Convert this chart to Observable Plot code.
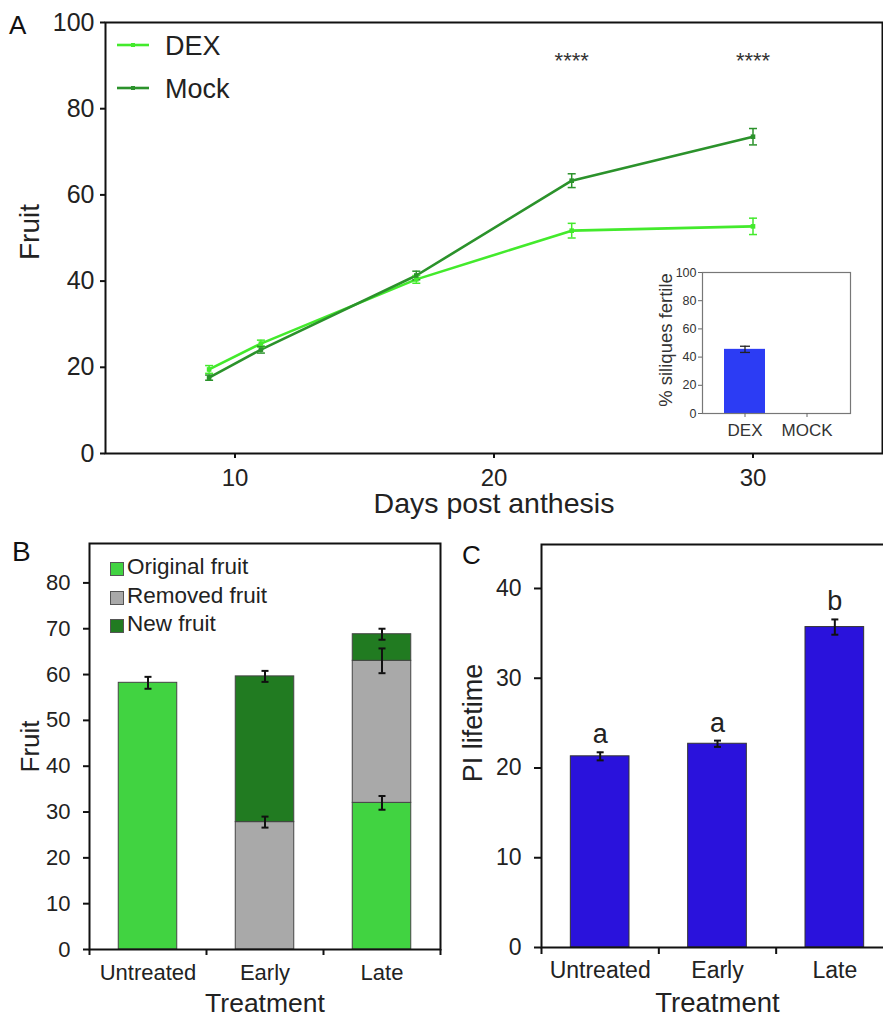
<!DOCTYPE html>
<html><head><meta charset="utf-8">
<script src="https://cdn.jsdelivr.net/npm/d3@7"></script>
<script src="https://cdn.jsdelivr.net/npm/@observablehq/plot@0.6"></script>
<style>
html,body{margin:0;padding:0;background:#fff;overflow:hidden}
#fig{position:relative;width:883px;height:1021px;overflow:hidden;font-family:"Liberation Sans",Arial,sans-serif;color:#222}
#fig > *{position:absolute}
.letter{line-height:1;color:#111}
.leg{line-height:1;white-space:nowrap}
</style></head><body><div id="fig"></div>
<script>
// ---------- Panel A data ----------
const days = [9, 11, 17, 23, 30];
const dexFruit = [19.5, 25.5, 40.4, 51.7, 52.7];
const dexErr = [0.9, 0.8, 0.9, 1.7, 1.9];
const mockFruit = [17.6, 24.1, 41.3, 63.3, 73.5];
const mockErr = [0.6, 0.8, 1.0, 1.6, 1.9];
const seriesA = ["DEX", "Mock"];
const yTicksA = [0, 20, 40, 60, 80, 100];
const xTicksA = [10, 20, 30];
const signifDays = [23, 30];
const signifLabels = ["****", "****"];
// ---------- Inset data ----------
const insetGroups = ["DEX", "MOCK"];
const insetFertile = [45.5, 0];
const insetErr = [2.2, 0];
const yTicksInset = [0, 20, 40, 60, 80, 100];
// ---------- Panel B data ----------
const treatments = ["Untreated", "Early", "Late"];
const seriesB = ["Original fruit", "Removed fruit", "New fruit"];
const originalFruit = [58.2, 0, 32.0];
const removedFruit = [0, 27.8, 31.0];
const newFruit = [0, 31.8, 5.8];
const bErrTreatment = ["Untreated", "Early", "Early", "Late", "Late", "Late"];
const bErrLevel = [58.2, 27.8, 59.6, 32.0, 63.0, 68.8];
const bErrSE = [1.3, 1.2, 1.2, 1.5, 2.7, 1.2];
const yTicksB = [0, 10, 20, 30, 40, 50, 60, 70, 80];
// ---------- Panel C data ----------
const piLifetime = [21.3, 22.7, 35.7];
const piErr = [0.45, 0.35, 0.85];
const piLetters = ["a", "a", "b"];
const yTicksC = [0, 10, 20, 30, 40];

// ---------- styles ----------
const FONT = '"Liberation Sans", Arial, sans-serif';
const DEX_C = "#43ea2c", MOCK_C = "#2b922b";
const INSET_C = "#2c3cf4";
const B_COLORS = ["#41d341", "#a9a9a9", "#217b21"];
const C_BAR = "#2a12dc";
const fig = document.getElementById("fig");
const cap = w => ({draw(ctx) { ctx.moveTo(-w / 2, 0); ctx.lineTo(w / 2, 0); }});
function place(el, left, top) { el.style.left = left + "px"; el.style.top = top + "px"; fig.appendChild(el); return el; }
function label(text, left, top, size, cls) {
  const d = document.createElement("div"); d.className = cls; d.textContent = text; d.style.fontSize = size + "px";
  return place(d, left, top);
}

// ---------- Panel A ----------
const lineRows = [];
days.forEach((d, i) => {
  lineRows.push({series: "DEX", day: d, fruit: dexFruit[i], err: dexErr[i]});
  lineRows.push({series: "Mock", day: d, fruit: mockFruit[i], err: mockErr[i]});
});
const plotA = Plot.plot({
  width: 883, height: 530, marginLeft: 105, marginRight: 1, marginTop: 22, marginBottom: 77,
  style: {fontFamily: FONT, fontSize: "25px", color: "#222", background: "transparent", overflow: "visible"},
  x: {domain: [5, 35]}, y: {domain: [0, 100]},
  color: {domain: seriesA, range: [DEX_C, MOCK_C]},
  marks: [
    Plot.frame({stroke: "#111", strokeWidth: 2}),
    Plot.axisY({ticks: yTicksA, tickSize: 5, tickPadding: 6, label: null, fontSize: 25, strokeWidth: 2, stroke: "#111"}),
    Plot.axisX({ticks: xTicksA, tickSize: 5, tickPadding: 10, label: null, fontSize: 24, strokeWidth: 2, stroke: "#111"}),
    Plot.line(lineRows, {x: "day", y: "fruit", z: "series", stroke: "series", strokeWidth: 2.6}),
    Plot.ruleX(lineRows, {x: "day", y1: d => d.fruit - d.err, y2: d => d.fruit + d.err, stroke: "series", strokeWidth: 1.5}),
    Plot.dot(lineRows, {x: "day", y: d => d.fruit - d.err, symbol: cap(8), stroke: "series", strokeWidth: 1.5, fill: "none"}),
    Plot.dot(lineRows, {x: "day", y: d => d.fruit + d.err, symbol: cap(8), stroke: "series", strokeWidth: 1.5, fill: "none"}),
    Plot.dot(lineRows, {x: "day", y: "fruit", fill: "series", r: 2.6, symbol: "square"}),
    Plot.text(signifDays, {x: d => d, text: (d, i) => signifLabels[i], frameAnchor: "top", dy: 30, fontSize: 22, fill: "#333"}),
    Plot.text(["Fruit"], {frameAnchor: "left", textAnchor: "middle", dx: -75, dy: -6, rotate: -90, fontSize: 28, fill: "#222"}),
    Plot.text(["Days post anthesis"], {frameAnchor: "bottom", textAnchor: "middle", dy: 59, fontSize: 28.5, fill: "#222"})
  ]
});
place(plotA, 0, 0);

// Legend A
seriesA.forEach((s, i) => {
  const color = [DEX_C, MOCK_C][i];
  const sw = document.createElementNS("http://www.w3.org/2000/svg", "svg");
  sw.setAttribute("width", 32); sw.setAttribute("height", 8);
  sw.innerHTML = `<line x1="0" y1="4" x2="32" y2="4" stroke="${color}" stroke-width="2.6"/><rect x="14" y="2" width="4" height="4" fill="${color}"/>`;
  place(sw, 117, 41 + i * 43);
  label(s, 165, 33 + i * 43, 27, "leg");
});
label("A", 9, 12, 26, "letter");

// ---------- Inset ----------
const insetRows = insetGroups.map((g, i) => ({group: g, value: insetFertile[i], err: insetErr[i]}));
const insetErrRows = insetRows.filter(d => d.err > 0);
const plotInset = Plot.plot({
  width: 215, height: 190, marginLeft: 62, marginRight: 5, marginTop: 10, marginBottom: 39,
  style: {fontFamily: FONT, fontSize: "12.5px", color: "#333", background: "#fff"},
  x: {domain: insetGroups, paddingInner: 0.333, paddingOuter: 0.35},
  y: {domain: [0, 100]},
  marks: [
    Plot.barY(insetRows, {x: "group", y: "value", fill: INSET_C}),
    Plot.frame({stroke: "#777", strokeWidth: 1.2}),
    Plot.axisY({ticks: yTicksInset, tickSize: 4, tickPadding: 2, label: null, fontSize: 12.5, stroke: "#666"}),
    Plot.axisX({tickSize: 4, tickPadding: 6, label: null, fontSize: 17, stroke: "#666"}),
    Plot.ruleX(insetErrRows, {x: "group", y1: d => d.value - d.err, y2: d => d.value + d.err, stroke: "#222", strokeWidth: 1.3}),
    Plot.dot(insetErrRows, {x: "group", y: d => d.value - d.err, symbol: cap(10), stroke: "#222", strokeWidth: 1.3, fill: "none"}),
    Plot.dot(insetErrRows, {x: "group", y: d => d.value + d.err, symbol: cap(10), stroke: "#222", strokeWidth: 1.3, fill: "none"}),
    Plot.text(["% siliques fertile"], {frameAnchor: "left", textAnchor: "middle", dx: -36, dy: -3, rotate: -90, fontSize: 18.5, fill: "#333"})
  ]
});
place(plotInset, 640, 262);

// ---------- Panel B ----------
const stackRows = [];
treatments.forEach((t, i) => {
  let base = 0;
  [originalFruit[i], removedFruit[i], newFruit[i]].forEach((v, k) => {
    if (v > 0) stackRows.push({idx: i, series: seriesB[k], y1: base, y2: base + v});
    base += v;
  });
});
const bErrRows = bErrTreatment.map((t, i) => ({idx: treatments.indexOf(t), level: bErrLevel[i], se: bErrSE[i]}));
const boundaries = treatments.map((_, i) => i - 0.5).concat([treatments.length - 0.5]);
const centers = treatments.map((_, i) => i);
const plotB = Plot.plot({
  width: 450, height: 501, marginLeft: 89, marginRight: 10, marginTop: 23, marginBottom: 72,
  style: {fontFamily: FONT, fontSize: "22px", color: "#222", background: "transparent", overflow: "visible"},
  x: {domain: [-0.5, treatments.length - 0.5]}, y: {domain: [0, 88.6]},
  color: {domain: seriesB, range: B_COLORS},
  marks: [
    Plot.rect(stackRows, {x1: d => d.idx - 0.25, x2: d => d.idx + 0.25, y1: "y1", y2: "y2", fill: "series", stroke: "#444", strokeWidth: 1}),
    Plot.frame({stroke: "#111", strokeWidth: 2}),
    Plot.axisY({ticks: yTicksB, tickSize: 6, tickPadding: 13, label: null, fontSize: 22, strokeWidth: 2, stroke: "#111"}),
    Plot.axisX({ticks: boundaries, tickFormat: () => "", tickSize: 6, label: null, strokeWidth: 2, stroke: "#111"}),
    Plot.axisX({ticks: centers, tickFormat: i => treatments[i], tickSize: 0, tickPadding: 15, label: null, fontSize: 22}),
    Plot.ruleX(bErrRows, {x: "idx", y1: d => d.level - d.se, y2: d => d.level + d.se, stroke: "#111", strokeWidth: 2}),
    Plot.dot(bErrRows, {x: "idx", y: d => d.level - d.se, symbol: cap(7), stroke: "#111", strokeWidth: 2, fill: "none"}),
    Plot.dot(bErrRows, {x: "idx", y: d => d.level + d.se, symbol: cap(7), stroke: "#111", strokeWidth: 2, fill: "none"}),
    Plot.text(["Fruit"], {frameAnchor: "left", textAnchor: "middle", dx: -59, rotate: -90, fontSize: 26, fill: "#222"}),
    Plot.text(["Treatment"], {frameAnchor: "bottom", textAnchor: "middle", dy: 62, fontSize: 26.5, fill: "#222"})
  ]
});
place(plotB, 0, 520);

// Legend B
seriesB.forEach((s, i) => {
  const sq = document.createElement("div");
  sq.style.cssText = `width:12px;height:12px;background:${B_COLORS[i]};border:1px solid #555;`;
  place(sq, 110, 562 + i * 28.5);
  label(s, 127, 556 + i * 28.5, 22.5, "leg");
});
label("B", 12, 538, 28, "letter");

// ---------- Panel C ----------
const cRows = treatments.map((t, i) => ({idx: i, value: piLifetime[i], err: piErr[i], letter: piLetters[i]}));
const plotC = Plot.plot({
  width: 450, height: 501, marginLeft: 91, marginRight: 7, marginTop: 24, marginBottom: 74,
  style: {fontFamily: FONT, fontSize: "23px", color: "#222", background: "transparent", overflow: "visible"},
  x: {domain: [-0.5, treatments.length - 0.5]}, y: {domain: [0, 44.9]},
  marks: [
    Plot.rect(cRows, {x1: d => d.idx - 0.25, x2: d => d.idx + 0.25, y1: 0, y2: "value", fill: C_BAR, stroke: "#333", strokeWidth: 1}),
    Plot.frame({stroke: "#111", strokeWidth: 2}),
    Plot.axisY({ticks: yTicksC, tickSize: 7, tickPadding: 13, label: null, fontSize: 23, strokeWidth: 2, stroke: "#111"}),
    Plot.axisX({ticks: boundaries, tickFormat: () => "", tickSize: 7, label: null, strokeWidth: 2, stroke: "#111"}),
    Plot.axisX({ticks: centers, tickFormat: i => treatments[i], tickSize: 0, tickPadding: 14, label: null, fontSize: 23}),
    Plot.ruleX(cRows, {x: "idx", y1: d => d.value - d.err, y2: d => d.value + d.err, stroke: "#111", strokeWidth: 2}),
    Plot.dot(cRows, {x: "idx", y: d => d.value - d.err, symbol: cap(7), stroke: "#111", strokeWidth: 2, fill: "none"}),
    Plot.dot(cRows, {x: "idx", y: d => d.value + d.err, symbol: cap(7), stroke: "#111", strokeWidth: 2, fill: "none"}),
    Plot.text(cRows, {x: "idx", y: d => d.value + d.err, text: "letter", lineAnchor: "bottom", dy: -9, fontSize: 27, fill: "#222"}),
    Plot.text(["PI lifetime"], {frameAnchor: "left", textAnchor: "middle", dx: -68, dy: -23, rotate: -90, fontSize: 27, fill: "#222"}),
    Plot.text(["Treatment"], {frameAnchor: "bottom", textAnchor: "middle", dy: 64, fontSize: 27.5, fill: "#222"})
  ]
});
place(plotC, 450, 520);
label("C", 462, 542, 26, "letter");
</script></body></html>
